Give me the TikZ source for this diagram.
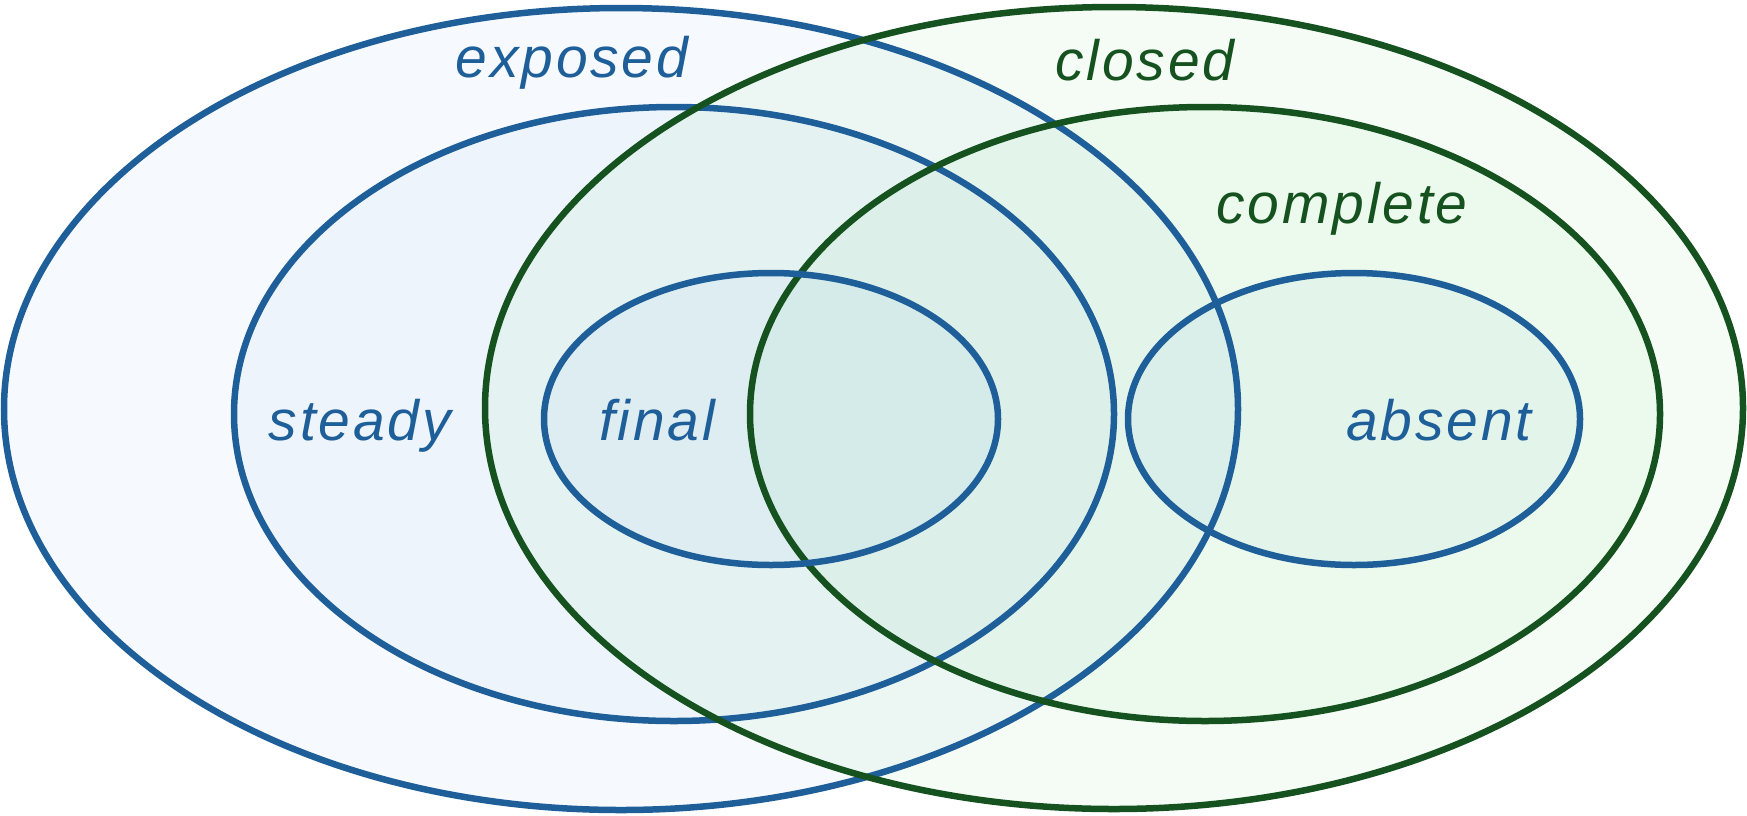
\documentclass[tikz,border=0pt]{standalone}
\usepackage{fontspec}
\setmainfont{Liberation Sans}
\newfontfamily\labfont[LetterSpace=5]{Liberation Sans}
\definecolor{bline}{RGB}{31,95,153}
\definecolor{gline}{RGB}{21,82,31}
\definecolor{bfill}{RGB}{100,160,220}
\definecolor{gfill}{RGB}{110,215,120}
\tikzset{
  bset/.style={fill=bfill, fill opacity=0.06},
  gset/.style={fill=gfill, fill opacity=0.07},
  bedge/.style={draw=bline, line width=6.5pt},
  gedge/.style={draw=gline, line width=6.5pt},
  lab/.style={anchor=base, font=\labfont\itshape\fontsize{57}{60}\selectfont},
  blab/.style={lab, text=bline},
  glab/.style={lab, text=gline}
}
\begin{document}
\begin{tikzpicture}[x=1pt,y=-1pt]
\useasboundingbox (0,0) rectangle (1747,815);
% fills
\path[bset] (621,409) ellipse [x radius=617pt, y radius=401pt];
\path[gset] (1114,408) ellipse [x radius=629pt, y radius=401pt];
\path[bset] (674,414) ellipse [x radius=440pt, y radius=307pt];
\path[gset] (1205,414) ellipse [x radius=455pt, y radius=307pt];
\path[bset] (771,419) ellipse [x radius=227pt, y radius=146pt];
\path[bset] (1354,419) ellipse [x radius=226pt, y radius=146pt];
% outlines
\path[bedge] (621,409) ellipse [x radius=617pt, y radius=401pt];
\path[bedge] (674,414) ellipse [x radius=440pt, y radius=307pt];
\path[gedge] (1114,408) ellipse [x radius=629pt, y radius=401pt];
\path[gedge] (1205,414) ellipse [x radius=455pt, y radius=307pt];
\path[bedge] (771,419) ellipse [x radius=227pt, y radius=146pt];
\path[bedge] (1354,419) ellipse [x radius=226pt, y radius=146pt];
% labels
\node[blab] (exposed) at (572,77) {exposed};
\node[glab] (closed) at (1145,80) {closed};
\node[blab] (steady) at (360,440) {steady};
\node[blab] (final) at (657,440) {final};
\node[glab] (complete) at (1342,223) {complete};
\node[blab] (absent) at (1439,440) {absent};
\end{tikzpicture}
\end{document}
